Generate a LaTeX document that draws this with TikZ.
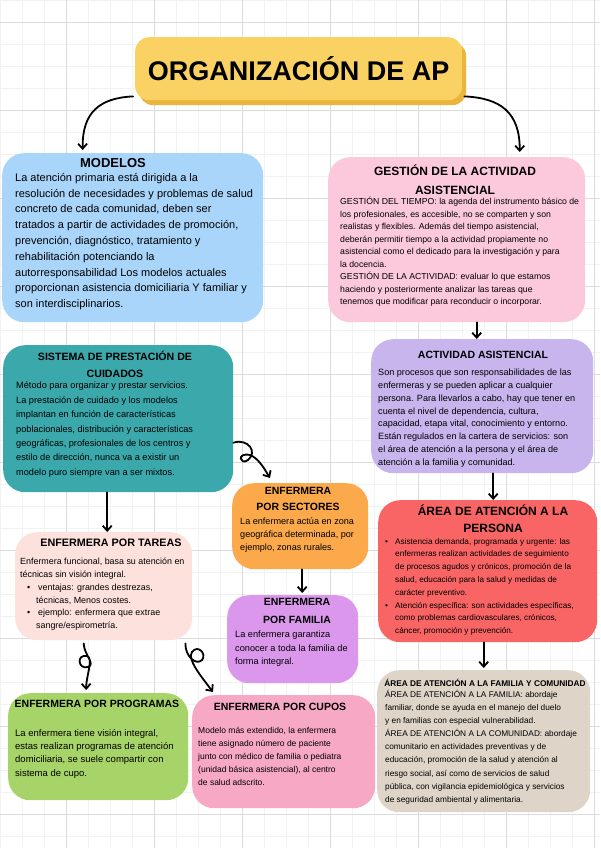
\documentclass[tikz,border=0pt]{standalone}
\usepackage{fontspec}
\setmainfont{Liberation Sans}
\usetikzlibrary{arrows.meta, shadows}

\definecolor{cyellow}{HTML}{F9D263}
\definecolor{cyellowdk}{HTML}{EBB53B}
\definecolor{cblue}{HTML}{A9D5FB}
\definecolor{cpink}{HTML}{FCC9DC}
\definecolor{cteal}{HTML}{3BA8AC}
\definecolor{clav}{HTML}{C8B5EE}
\definecolor{corange}{HTML}{FCA94B}
\definecolor{cviolet}{HTML}{DB97EC}
\definecolor{ccoral}{HTML}{F96565}
\definecolor{cpeach}{HTML}{FDE1DD}
\definecolor{cgreen}{HTML}{A7D468}
\definecolor{crose}{HTML}{F7A8C5}
\definecolor{cbeige}{HTML}{DED5C8}

\begin{document}
\begin{tikzpicture}[x=1pt, y=-1pt,
    box/.style={anchor=north west, rounded corners=22pt, inner sep=0pt},
    ttl/.style={font=\bfseries\fontsize{10.5}{16}\selectfont, align=center, inner sep=0pt},
    txt/.style={anchor=north west, align=left, inner sep=0pt},
    arr/.style={-{Straight Barb[length=5pt, width=9pt]}, line width=1.8pt, line cap=round}]
    \useasboundingbox (0,0) rectangle (600,848);

    % grid paper
    \fill[white] (0,0) rectangle (600,848);
    \foreach \gx in {0,22,...,600} \draw[gray!10, line width=0.4pt] (\gx,0) -- (\gx,848);
    \foreach \gy in {0,22,...,848} \draw[gray!10, line width=0.4pt] (0,\gy) -- (600,\gy);
    \foreach \gx in {66,154,...,600} \draw[gray!28, line width=0.6pt] (\gx,0) -- (\gx,848);
    \foreach \gy in {22,110,...,848} \draw[gray!28, line width=0.6pt] (0,\gy) -- (600,\gy);

    % title
    \node[box, rounded corners=14pt, fill=cyellow, minimum width=327pt, minimum height=63pt,
          font=\bfseries\fontsize{27}{30}\selectfont,
          drop shadow={shadow xshift=4pt, shadow yshift=-5pt, fill=cyellowdk, opacity=1}]
          (title) at (135,37) {ORGANIZACIÓN DE AP};

    % boxes
    \node[box, fill=cblue, minimum width=261pt, minimum height=169pt] (modelos) at (2,153) {};
    \node[box, fill=cpink, minimum width=257pt, minimum height=165pt] (gestion) at (328,157) {};
    \node[box, fill=cteal, minimum width=230pt, minimum height=147pt] (sistema) at (3,345) {};
    \node[box, fill=clav, minimum width=222pt, minimum height=134pt] (actividad) at (371,339) {};
    \node[box, fill=corange, minimum width=136pt, minimum height=86pt] (sectores) at (232,483) {};
    \node[box, fill=cviolet, minimum width=131pt, minimum height=88pt] (familia) at (227,595) {};
    \node[box, fill=ccoral, minimum width=219pt, minimum height=142pt] (persona) at (378,500) {};
    \node[box, fill=cpeach, minimum width=177pt, minimum height=108pt] (tareas) at (15,532) {};
    \node[box, fill=cgreen, minimum width=180pt, minimum height=107pt] (programas) at (8,693) {};
    \node[box, fill=crose, minimum width=183pt, minimum height=113pt] (cupos) at (192,695) {};
    \node[box, fill=cbeige, minimum width=213pt, minimum height=142pt] (famcom) at (377,670) {};

    % titles
    \node[ttl, font=\bfseries\fontsize{13}{16}\selectfont] (modelos-ttl) at (113,163) {MODELOS};
    \node[ttl, font=\bfseries\fontsize{12}{19}\selectfont] (gestion-ttl) at (455,180) {GESTIÓN DE LA ACTIVIDAD\\ASISTENCIAL};
    \node[ttl, font=\bfseries\fontsize{10.6}{17}\selectfont] (sistema-ttl) at (115,364.5) {SISTEMA DE PRESTACIÓN DE\\CUIDADOS};
    \node[ttl] (actividad-ttl) at (483,355) {ACTIVIDAD ASISTENCIAL};
    \node[ttl] (sectores-ttl) at (298,499) {ENFERMERA\\POR SECTORES};
    \node[ttl, font=\bfseries\fontsize{10.5}{18}\selectfont] (familia-ttl) at (297,611) {ENFERMERA\\POR FAMILIA};
    \node[ttl, font=\bfseries\fontsize{12}{17}\selectfont] (persona-ttl) at (493,518.5) {ÁREA DE ATENCIÓN A LA\\PERSONA};
    \node[ttl, font=\bfseries\fontsize{10.8}{16}\selectfont] (tareas-ttl) at (111,543) {ENFERMERA POR TAREAS};
    \node[ttl] (programas-ttl) at (97,704) {ENFERMERA POR PROGRAMAS};
    \node[ttl] (cupos-ttl) at (280,707) {ENFERMERA POR CUPOS};
    \node[ttl, font=\bfseries\fontsize{8.3}{10}\selectfont] (famcom-ttl) at (485,683) {ÁREA DE ATENCIÓN A LA FAMILIA Y COMUNIDAD};

    % texts
    \node[txt, font=\fontsize{11}{15.8}\selectfont] (modelos-txt) at (15,173) {La atención primaria está dirigida a la\\
        resolución de necesidades y problemas de salud\\
        concreto de cada comunidad, deben ser\\
        tratados a partir de actividades de promoción,\\
        prevención, diagnóstico, tratamiento y\\
        rehabilitación potenciando la\\
        autorresponsabilidad Los modelos actuales\\
        proporcionan asistencia domiciliaria Y familiar y\\
        son interdisciplinarios.};
    \node[txt, font=\fontsize{8.7}{12.5}\selectfont] (gestion-txt) at (340,197) {GESTIÓN DEL TIEMPO: la agenda del instrumento básico de\\
        los profesionales, es accesible, no se comparten y son\\
        realistas y flexibles. Además del tiempo asistencial,\\
        deberán permitir tiempo a la actividad propiamente no\\
        asistencial como el dedicado para la investigación y para\\
        la docencia.\\
        GESTIÓN DE LA ACTIVIDAD: evaluar lo que estamos\\
        haciendo y posteriormente analizar las tareas que\\
        tenemos que modificar para reconducir o incorporar.};
    \node[txt, font=\fontsize{9.2}{14.4}\selectfont] (sistema-txt) at (16,382) {Método para organizar y prestar servicios.\\
        La prestación de cuidado y los modelos\\
        implantan en función de características\\
        poblacionales, distribución y características\\
        geográficas, profesionales de los centros y\\
        estilo de dirección, nunca va a existir un\\
        modelo puro siempre van a ser mixtos.};
    \node[txt, font=\fontsize{9.1}{12.8}\selectfont] (actividad-txt) at (378,369) {Son procesos que son responsabilidades de las\\
        enfermeras y se pueden aplicar a cualquier\\
        persona. Para llevarlos a cabo, hay que tener en\\
        cuenta el nivel de dependencia, cultura,\\
        capacidad, etapa vital, conocimiento y entorno.\\
        Están regulados en la cartera de servicios: son\\
        el área de atención a la persona y el área de\\
        atención a la familia y comunidad.};
    \node[txt, font=\fontsize{9.1}{13}\selectfont] (sectores-txt) at (240,518) {La enfermera actúa en zona\\
        geográfica determinada, por\\
        ejemplo, zonas rurales.};
    \node[txt, font=\fontsize{9.2}{13.5}\selectfont] (familia-txt) at (235,631) {La enfermera garantiza\\
        conocer a toda la familia de\\
        forma integral.};
    \node[txt, font=\fontsize{8.2}{12.8}\selectfont] (persona-txt) at (385,538) {\makebox[10pt][l]{\textbullet}Asistencia demanda, programada y urgente: las\\
        \hspace*{10pt}enfermeras realizan actividades de seguimiento\\
        \hspace*{10pt}de procesos agudos y crónicos, promoción de la\\
        \hspace*{10pt}salud, educación para la salud y medidas de\\
        \hspace*{10pt}carácter preventivo.\\
        \makebox[10pt][l]{\textbullet}Atención específica: son actividades específicas,\\
        \hspace*{10pt}como problemas cardiovasculares, crónicos,\\
        \hspace*{10pt}cáncer, promoción y prevención.};
    \node[txt, font=\fontsize{8.9}{12.8}\selectfont] (tareas-txt) at (20,558) {Enfermera funcional, basa su atención en\\
        técnicas sin visión integral.\\
        \hspace*{7pt}\makebox[11pt][l]{\textbullet}ventajas: grandes destrezas,\\
        \hspace*{16pt}técnicas, Menos costes.\\
        \hspace*{7pt}\makebox[11pt][l]{\textbullet}ejemplo: enfermera que extrae\\
        \hspace*{16pt}sangre/espirometría.};
    \node[txt, font=\fontsize{9.5}{13.3}\selectfont] (programas-txt) at (15,729) {La enfermera tiene visión integral,\\
        estas realizan programas de atención\\
        domiciliaria, se suele compartir con\\
        sistema de cupo.};
    \node[txt, font=\fontsize{8.5}{13}\selectfont] (cupos-txt) at (198,727) {Modelo más extendido, la enfermera\\
        tiene asignado número de paciente\\
        junto con médico de familia o pediatra\\
        (unidad básica asistencial), al centro\\
        de salud adscrito.};
    \node[txt, font=\fontsize{8.3}{13.1}\selectfont] (famcom-txt) at (385,690) {ÁREA DE ATENCIÓN A LA FAMILIA: abordaje\\
        familiar, donde se ayuda en el manejo del duelo\\
        y en familias con especial vulnerabilidad.\\
        ÁREA DE ATENCIÓN A LA COMUNIDAD: abordaje\\
        comunitario en actividades preventivas y de\\
        educación, promoción de la salud y atención al\\
        riesgo social, así como de servicios de salud\\
        pública, con vigilancia epidemiológica y servicios\\
        de seguridad ambiental y alimentaria.};

    % connectors
    \draw[arr] ([xshift=-2pt,yshift=4pt]title.south west) .. controls (100,98) and (82,112) .. ([xshift=-50pt,yshift=3pt]modelos.north);
    \draw[arr] ([xshift=2pt,yshift=4pt]title.south east) .. controls (500,98) and (520,112) .. ([xshift=63pt,yshift=5pt]gestion.north);
    \draw[arr] ([xshift=20pt]gestion.south) -- ([xshift=-5.5pt]actividad.north);
    \draw[arr] ([xshift=11pt]actividad.south) -- ([xshift=5.5pt]persona.north);
    \draw[arr] ([xshift=-4pt]persona.south) -- ([yshift=2pt]famcom.north);
    \draw[arr] ([xshift=-11pt]sistema.south) -- ([xshift=3.5pt]tareas.north);
    \draw[arr] ([xshift=2pt]sectores.south) -- ([xshift=9.5pt,yshift=2pt]familia.north);
    % curly ones
    \draw[arr] ([yshift=-24pt]sistema.east) .. controls (248,438) and (258,452) .. (248,460)
        .. controls (240,466) and (236,452) .. (250,455)
        .. controls (258,458) and (264,468) .. ([xshift=38pt,yshift=5pt]sectores.north west);
    \draw[arr] ([xshift=-20pt,yshift=-3pt]tareas.south) .. controls (84,655) and (96,664) .. (88,667)
        .. controls (78,670) and (76,654) .. (87,656)
        .. controls (94,658) and (86,676) .. ([xshift=-12pt,yshift=3pt]programas.north);
    \draw[arr] ([xshift=-7pt,yshift=-3pt]tareas.south east) .. controls (185,656) and (196,666) .. (202,660)
        .. controls (207,654) and (198,644) .. (192,652)
        .. controls (187,659) and (200,675) .. ([xshift=21pt,yshift=3pt]cupos.north west);
\end{tikzpicture}
\end{document}
